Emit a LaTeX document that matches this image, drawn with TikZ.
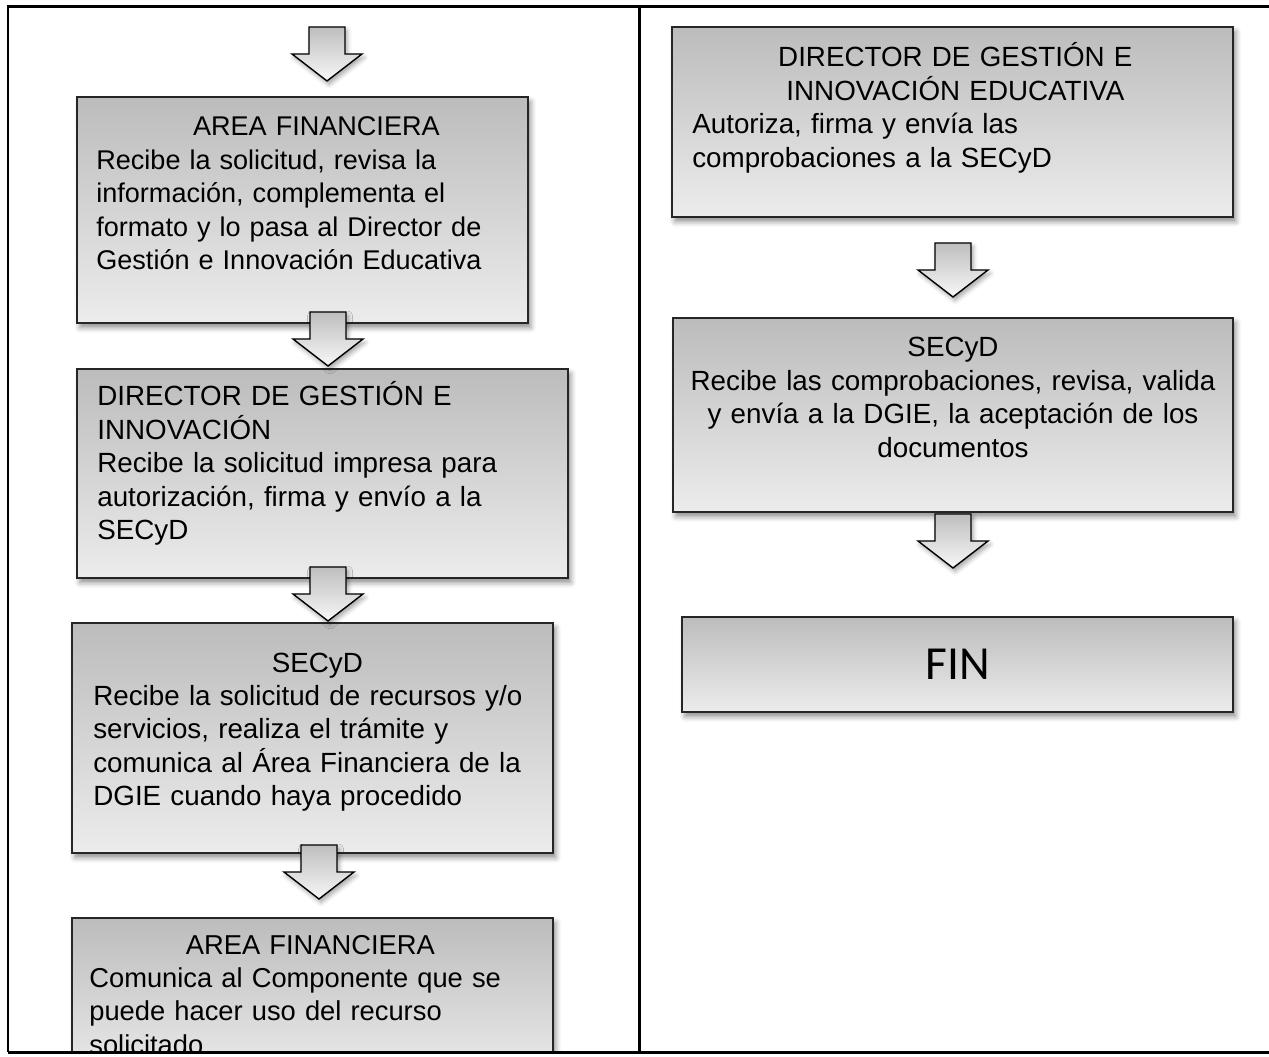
\documentclass[tikz,border=0pt]{standalone}
\usepackage{fontspec}
\setmainfont{Liberation Sans}
\newfontfamily\carlito{Carlito}
\usetikzlibrary{fit, shadows.blur}

\definecolor{grisalto}{RGB}{188,188,188}
\definecolor{grisbajo}{RGB}{236,236,236}
\definecolor{flechaalto}{RGB}{190,190,190}
\definecolor{flechabajo}{RGB}{247,247,247}

\begin{document}
\begin{tikzpicture}[
  x=0.2mm, y=-0.2mm,
  marco/.style={line width=1.7pt},
  caja/.style={draw=black!85, line width=1.1pt, inner sep=0pt, top color=grisalto, bottom color=grisbajo,
    blur shadow={shadow xshift=1.6pt, shadow yshift=-2.6pt, shadow blur radius=3pt, shadow opacity=45}},
  texto/.style={inner sep=0pt, anchor=base west, align=left, font=\fontsize{15.8pt}{19pt}\selectfont},
  flechaestilo/.style={draw=black, line width=0.8pt, top color=flechaalto, bottom color=flechabajo,
    blur shadow={shadow xshift=1.2pt, shadow yshift=-2pt, shadow blur radius=2.5pt, shadow opacity=35}},
  flecha/.pic={\draw[flechaestilo] (-18,0) -- (18,0) -- (18,27) -- (35,27) -- (0,54) -- (-35,27) -- (-18,27) -- cycle;}
]
\useasboundingbox (0,0) rectangle (1269,1057);

% columna izquierda
\node[caja, fit={(77,97) (528,323)}] (af1) {};
\node[texto, text width=440*0.2mm, font=\fontsize{15.4pt}{19pt}\selectfont] (af1t) at (96,136) {{\centering AREA FINANCIERA\par}
  Recibe la solicitud, revisa la\\ información, complementa el\\ formato y lo pasa al Director de\\ Gestión e Innovación Educativa};

\node[caja, fit={(77,369) (568,578)}] (dir1) {};
\node[texto, text width=440*0.2mm] (dir1t) at (97,406) {DIRECTOR DE GESTIÓN E\\ INNOVACIÓN\\
  Recibe la solicitud impresa para\\ autorización, firma y envío a la\\ SECyD};

\node[caja, fit={(72,623) (553,853)}] (sec1) {};
\node[texto, text width=448*0.2mm] (sec1t) at (93,672) {{\centering SECyD\par}
  Recibe la solicitud de recursos y/o\\ servicios, realiza el trámite y\\ comunica al Área Financiera de la\\ DGIE cuando haya procedido};

\begin{scope}
  \clip (0,0) rectangle (1269,1052);
  \node[caja, fit={(72,918) (553,1080)}] (af2) {};
  \node[texto, text width=442*0.2mm, font=\fontsize{15.55pt}{19pt}\selectfont] (af2t) at (89,954) {{\centering AREA FINANCIERA\par}
    Comunica al Componente que se\\ puede hacer uso del recurso\\ solicitado};
\end{scope}

\pic (f0) at (327,27) {flecha};
\pic (f1) at (328,312) {flecha};
\pic (f2) at (328,567) {flecha};
\pic (f3) at (319,845) {flecha};

% columna derecha
\node[caja, fit={(672,27) (1233,217)}] (dir2) {};
\node[texto, text width=526*0.2mm] (dir2t) at (692,67) {{\centering DIRECTOR DE GESTIÓN E\\ INNOVACIÓN EDUCATIVA\par}
  Autoriza, firma y envía las\\ comprobaciones a la SECyD};

\node[caja, fit={(673,318) (1233,512)}] (sec2) {};
\node[texto, anchor=base, align=center, text width=540*0.2mm] (sec2t) at (953,357) {SECyD\\
  Recibe las comprobaciones, revisa, valida\\ y envía a la DGIE, la aceptación de los\\ documentos};

\node[caja, fit={(682,617) (1233,712)}] (fin) {};
\node[font=\carlito\fontsize{27pt}{30pt}\selectfont, inner sep=0pt] (fint) at (fin.center) {FIN};

\pic (f4) at (953,243) {flecha};
\pic (f5) at (953,514) {flecha};

% marco
\draw[marco] (8,1052) -- (8,7) -- (1269,7);
\draw[marco] (639,7) -- (639,1052);
\draw[marco] (8,1052) -- (1269,1052);
\end{tikzpicture}
\end{document}
